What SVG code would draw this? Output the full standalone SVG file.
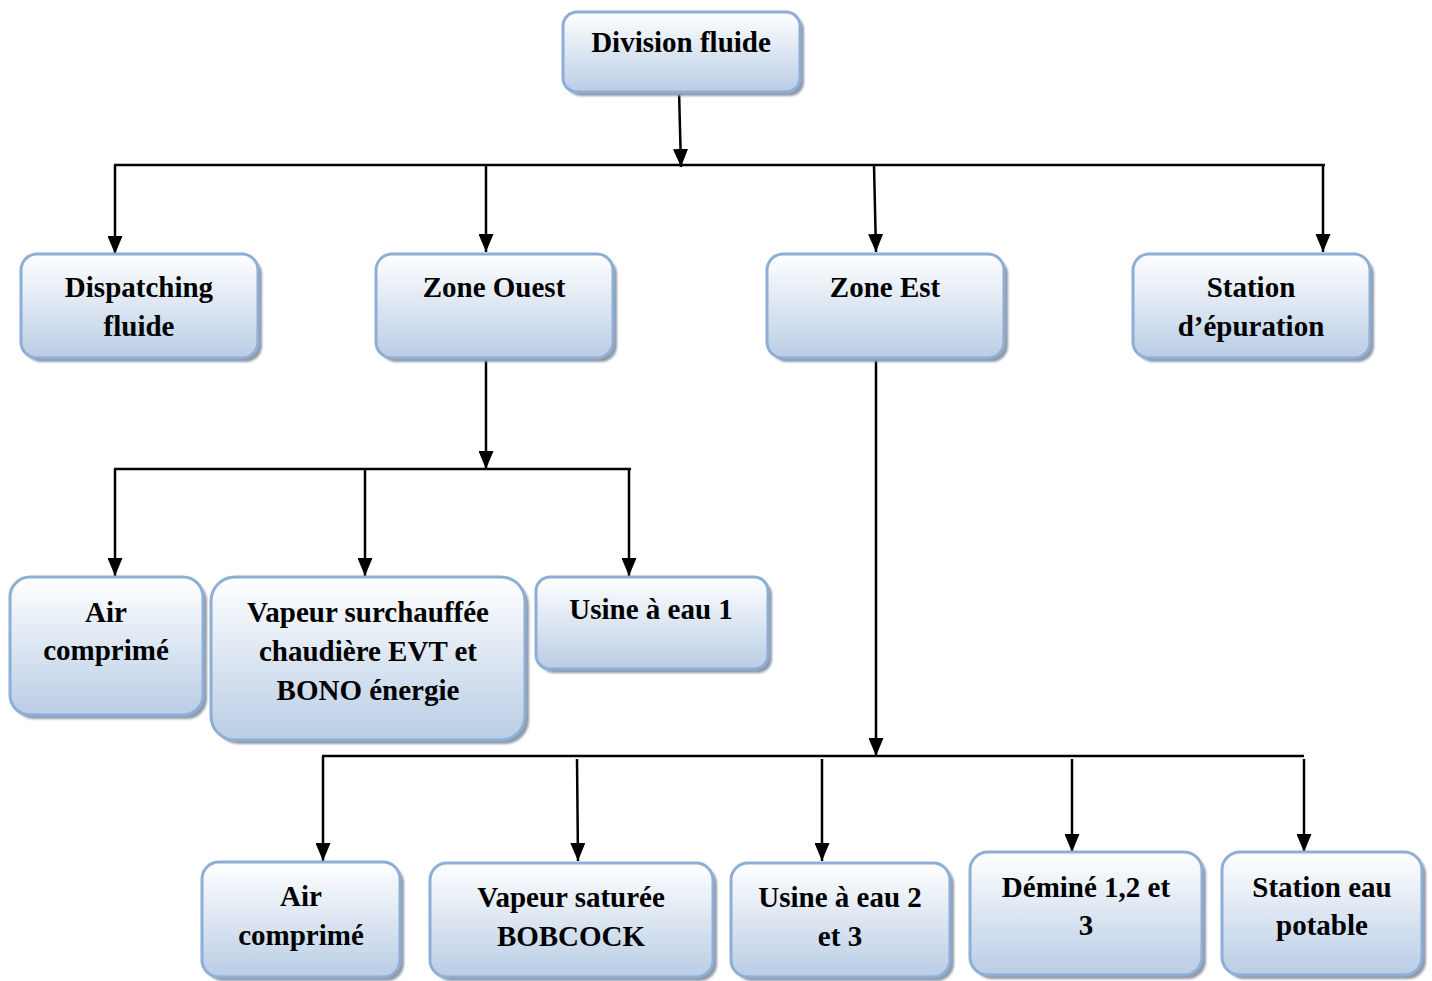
<svg xmlns="http://www.w3.org/2000/svg" width="1432" height="981" viewBox="0 0 1432 981">
<defs>
<linearGradient id="g" x1="0" y1="0" x2="0" y2="1">
<stop offset="0" stop-color="#ffffff"/>
<stop offset="1" stop-color="#b9cde5"/>
</linearGradient>
<filter id="sh" x="-10%" y="-10%" width="130%" height="130%">
<feGaussianBlur stdDeviation="1.2"/>
</filter>
<marker id="ah" markerWidth="18" markerHeight="15" refX="18" refY="7.5" orient="auto" markerUnits="userSpaceOnUse" viewBox="0 0 18 15">
<path d="M0,0 L18,7.5 L0,15 Z" fill="#000"/>
</marker>
</defs>
<style>
.box{fill:url(#g);stroke:#8eaed6;stroke-width:3}
.shd{fill:#8f9aa8;filter:url(#sh)}
.t{font-family:"Liberation Serif","Times New Roman",serif;font-weight:bold;font-size:29px;fill:#000;text-anchor:middle}
.c{stroke:#000;stroke-width:2.5;fill:none}
.a{stroke:#000;stroke-width:2.5;fill:none;marker-end:url(#ah)}
</style>
<rect width="1432" height="981" fill="#fff"/>

<g id="connectors">
<line class="a" x1="679" y1="90" x2="681" y2="167"/>
<line class="c" x1="114" y1="165" x2="1325" y2="165"/>
<line class="a" x1="115" y1="165" x2="115" y2="254"/>
<line class="a" x1="486" y1="165" x2="486" y2="252"/>
<line class="a" x1="874" y1="165" x2="876" y2="252"/>
<line class="a" x1="1323" y1="165" x2="1323" y2="252"/>

<line class="a" x1="486" y1="356" x2="486" y2="469"/>
<line class="c" x1="114" y1="469" x2="631" y2="469"/>
<line class="a" x1="115" y1="469" x2="115" y2="576"/>
<line class="a" x1="365" y1="469" x2="365" y2="576"/>
<line class="a" x1="629" y1="469" x2="629" y2="576"/>

<line class="a" x1="876" y1="356" x2="876" y2="756"/>
<line class="c" x1="322" y1="756" x2="1304" y2="756"/>
<line class="a" x1="323" y1="756" x2="323" y2="861"/>
<line class="a" x1="577" y1="759" x2="578" y2="861"/>
<line class="a" x1="822" y1="759" x2="822" y2="861"/>
<line class="a" x1="1072" y1="759" x2="1072" y2="852"/>
<line class="a" x1="1304" y1="759" x2="1304" y2="852"/>
</g>

<g id="division">
<rect class="shd" x="567" y="16" width="237" height="80" rx="14"/>
<rect class="box" x="563" y="12" width="237" height="80" rx="14"/>
<text class="t" x="681" y="52">Division fluide</text>
</g>

<g id="dispatching">
<rect class="shd" x="25" y="258" width="237" height="104" rx="16"/>
<rect class="box" x="21" y="254" width="237" height="104" rx="16"/>
<text class="t" x="139" y="297">Dispatching</text>
<text class="t" x="139" y="336">fluide</text>
</g>

<g id="zone-ouest">
<rect class="shd" x="380" y="258" width="237" height="104" rx="16"/>
<rect class="box" x="376" y="254" width="237" height="104" rx="16"/>
<text class="t" x="494" y="297">Zone Ouest</text>
</g>

<g id="zone-est">
<rect class="shd" x="771" y="258" width="237" height="104" rx="16"/>
<rect class="box" x="767" y="254" width="237" height="104" rx="16"/>
<text class="t" x="885" y="297">Zone Est</text>
</g>

<g id="station-epuration">
<rect class="shd" x="1137" y="258" width="237" height="104" rx="16"/>
<rect class="box" x="1133" y="254" width="237" height="104" rx="16"/>
<text class="t" x="1251" y="297">Station</text>
<text class="t" x="1251" y="336">d’épuration</text>
</g>

<g id="air-comprime-1">
<rect class="shd" x="14" y="581" width="193" height="138" rx="20"/>
<rect class="box" x="10" y="577" width="193" height="138" rx="20"/>
<text class="t" x="106" y="622">Air</text>
<text class="t" x="106" y="660">comprimé</text>
</g>

<g id="vapeur-surchauffee">
<rect class="shd" x="215" y="581" width="314" height="163" rx="24"/>
<rect class="box" x="211" y="577" width="314" height="163" rx="24"/>
<text class="t" x="368" y="622">Vapeur surchauffée</text>
<text class="t" x="368" y="661">chaudière EVT et</text>
<text class="t" x="368" y="700">BONO énergie</text>
</g>

<g id="usine-eau-1">
<rect class="shd" x="540" y="581" width="232" height="92" rx="14"/>
<rect class="box" x="536" y="577" width="232" height="92" rx="14"/>
<text class="t" x="651" y="619">Usine à eau 1</text>
</g>

<g id="air-comprime-2">
<rect class="shd" x="206" y="866" width="198" height="115" rx="17"/>
<rect class="box" x="202" y="862" width="198" height="115" rx="17"/>
<text class="t" x="301" y="906">Air</text>
<text class="t" x="301" y="945">comprimé</text>
</g>

<g id="vapeur-saturee">
<rect class="shd" x="434" y="867" width="283" height="114" rx="17"/>
<rect class="box" x="430" y="863" width="283" height="114" rx="17"/>
<text class="t" x="571" y="907">Vapeur saturée</text>
<text class="t" x="571" y="946">BOBCOCK</text>
</g>

<g id="usine-eau-2-3">
<rect class="shd" x="735" y="867" width="219" height="114" rx="17"/>
<rect class="box" x="731" y="863" width="219" height="114" rx="17"/>
<text class="t" x="840" y="907">Usine à eau 2</text>
<text class="t" x="840" y="946">et 3</text>
</g>

<g id="demine">
<rect class="shd" x="974" y="856" width="232" height="123" rx="18"/>
<rect class="box" x="970" y="852" width="232" height="123" rx="18"/>
<text class="t" x="1086" y="897">Déminé 1,2 et</text>
<text class="t" x="1086" y="935">3</text>
</g>

<g id="station-eau-potable">
<rect class="shd" x="1226" y="856" width="200" height="123" rx="18"/>
<rect class="box" x="1222" y="852" width="200" height="123" rx="18"/>
<text class="t" x="1322" y="897">Station eau</text>
<text class="t" x="1322" y="935">potable</text>
</g>
</svg>
